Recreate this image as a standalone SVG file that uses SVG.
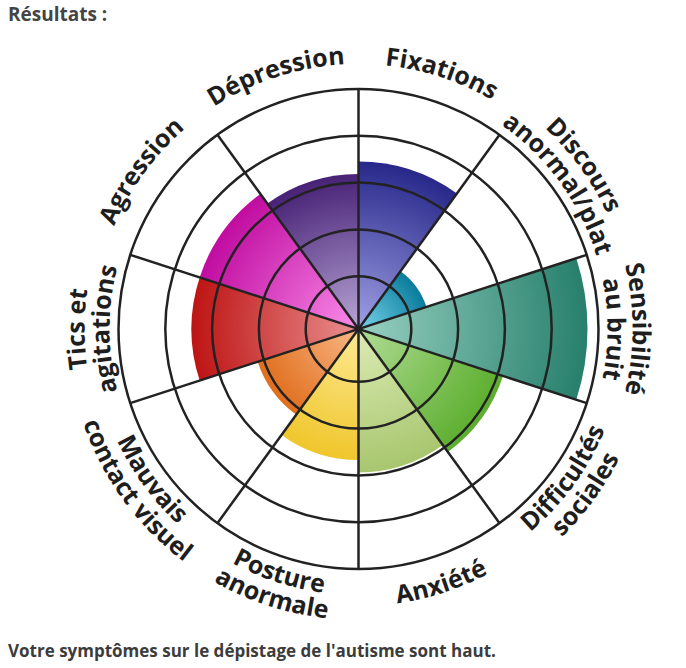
<svg xmlns="http://www.w3.org/2000/svg" width="686" height="668" viewBox="0 0 686 668">
<style>
.lbl{font-family:"Open Sans","Liberation Sans",sans-serif;font-weight:700;font-size:25px;fill:#1e1e1e}
.txt{font-family:"Open Sans","Liberation Sans",sans-serif;font-weight:700;font-size:17px;fill:#3c3c3c}
.ttl{font-family:"Open Sans","Liberation Sans",sans-serif;font-weight:700;font-size:19px;fill:#444}
.grid{fill:none;stroke:#222;stroke-width:2.5}
</style>
<defs>
<radialGradient id="gFix" gradientUnits="userSpaceOnUse" cx="358.5" cy="329" r="167.5"><stop offset="0" stop-color="#a0a0e6"/><stop offset="1" stop-color="#28288a"/></radialGradient>
<radialGradient id="gDis" gradientUnits="userSpaceOnUse" cx="358.5" cy="329" r="71.5"><stop offset="0" stop-color="#78d4ec"/><stop offset="1" stop-color="#0a7c9c"/></radialGradient>
<radialGradient id="gSen" gradientUnits="userSpaceOnUse" cx="358.5" cy="329" r="229"><stop offset="0" stop-color="#98d0c2"/><stop offset="1" stop-color="#27806c"/></radialGradient>
<radialGradient id="gDif" gradientUnits="userSpaceOnUse" cx="358.5" cy="329" r="152"><stop offset="0" stop-color="#b0dc94"/><stop offset="1" stop-color="#5cae2e"/></radialGradient>
<radialGradient id="gAnx" gradientUnits="userSpaceOnUse" cx="358.5" cy="329" r="143.5"><stop offset="0" stop-color="#dcecb6"/><stop offset="1" stop-color="#a8c66e"/></radialGradient>
<radialGradient id="gPos" gradientUnits="userSpaceOnUse" cx="358.5" cy="329" r="131"><stop offset="0" stop-color="#fdea94"/><stop offset="1" stop-color="#f0c62c"/></radialGradient>
<radialGradient id="gMau" gradientUnits="userSpaceOnUse" cx="358.5" cy="329" r="106"><stop offset="0" stop-color="#f9b888"/><stop offset="1" stop-color="#e06e1c"/></radialGradient>
<radialGradient id="gTic" gradientUnits="userSpaceOnUse" cx="358.5" cy="329" r="167"><stop offset="0" stop-color="#ea9090"/><stop offset="1" stop-color="#be1414"/></radialGradient>
<radialGradient id="gAgr" gradientUnits="userSpaceOnUse" cx="358.5" cy="329" r="167"><stop offset="0" stop-color="#fa8cea"/><stop offset="1" stop-color="#c00ca0"/></radialGradient>
<radialGradient id="gDep" gradientUnits="userSpaceOnUse" cx="358.5" cy="329" r="155"><stop offset="0" stop-color="#b8a6d6"/><stop offset="1" stop-color="#482276"/></radialGradient>
<path id="cw265" d="M109.48,238.36 A265,265 0 0 1 607.52,238.36"/>
<path id="cw274" d="M101.02,235.29 A274,274 0 0 1 615.98,235.29"/>
<path id="cw249" d="M124.52,243.84 A249,249 0 0 1 592.48,243.84"/>
<path id="ccw277" d="M98.2,423.74 A277,277 0 0 0 618.8,423.74"/>
<path id="ccw266" d="M108.54,419.98 A266,266 0 0 0 608.46,419.98"/>
<path id="ccw291" d="M85.05,428.53 A291,291 0 0 0 631.95,428.53"/>
</defs>
<rect width="686" height="668" fill="#fff"/>
<text class="ttl" x="8" y="21">Résultats :</text>

<g id="fixations">
<path d="M358.5,329 L358.5,161.5 A167.5,167.5 0 0 1 456.95,193.49 Z" fill="url(#gFix)"/>
<text class="lbl" transform="rotate(18 358.5 329)" text-anchor="middle"><textPath href="#cw265" startOffset="50%">Fixations</textPath></text>
</g>
<g id="discours">
<path d="M358.5,329 L400.53,271.16 A71.5,71.5 0 0 1 426.5,306.91 Z" fill="url(#gDis)"/>
<text class="lbl" transform="rotate(54 358.5 329)" text-anchor="middle"><textPath href="#cw274" startOffset="50%">Discours</textPath></text>
<text class="lbl" transform="rotate(54 358.5 329)" text-anchor="middle"><textPath href="#cw249" startOffset="50%">anormal/plat</textPath></text>
</g>
<g id="sensibilite">
<path d="M358.5,329 L576.29,258.24 A229,229 0 0 1 576.29,399.76 Z" fill="url(#gSen)"/>
<text class="lbl" transform="rotate(90 358.5 329)" text-anchor="middle"><textPath href="#cw274" startOffset="50%">Sensibilité</textPath></text>
<text class="lbl" transform="rotate(90 358.5 329)" text-anchor="middle"><textPath href="#cw249" startOffset="50%">au bruit</textPath></text>
</g>
<g id="difficultes">
<path d="M358.5,329 L503.06,375.97 A152,152 0 0 1 447.84,451.97 Z" fill="url(#gDif)"/>
<text class="lbl" transform="rotate(-54 358.5 329)" text-anchor="middle"><textPath href="#ccw266" startOffset="50%">Difficultés</textPath></text>
<text class="lbl" transform="rotate(-54 358.5 329)" text-anchor="middle"><textPath href="#ccw291" startOffset="50%">sociales</textPath></text>
</g>
<g id="anxiete">
<path d="M358.5,329 L442.85,445.09 A143.5,143.5 0 0 1 358.5,472.5 Z" fill="url(#gAnx)"/>
<text class="lbl" transform="rotate(-18 358.5 329)" text-anchor="middle"><textPath href="#ccw277" startOffset="50%">Anxiété</textPath></text>
</g>
<g id="posture">
<path d="M358.5,329 L358.5,460 A131,131 0 0 1 281.5,434.98 Z" fill="url(#gPos)"/>
<text class="lbl" transform="rotate(18 358.5 329)" text-anchor="middle"><textPath href="#ccw266" startOffset="50%">Posture</textPath></text>
<text class="lbl" transform="rotate(18 358.5 329)" text-anchor="middle"><textPath href="#ccw291" startOffset="50%">anormale</textPath></text>
</g>
<g id="contact">
<path d="M358.5,329 L296.19,414.76 A106,106 0 0 1 257.69,361.76 Z" fill="url(#gMau)"/>
<text class="lbl" transform="rotate(54 358.5 329)" text-anchor="middle"><textPath href="#ccw266" startOffset="50%">Mauvais</textPath></text>
<text class="lbl" transform="rotate(54 358.5 329)" text-anchor="middle"><textPath href="#ccw291" startOffset="50%">contact visuel</textPath></text>
</g>
<g id="tics">
<path d="M358.5,329 L199.67,380.61 A167,167 0 0 1 199.67,277.39 Z" fill="url(#gTic)"/>
<text class="lbl" transform="rotate(-90 358.5 329)" text-anchor="middle"><textPath href="#cw274" startOffset="50%">Tics et</textPath></text>
<text class="lbl" transform="rotate(-90 358.5 329)" text-anchor="middle"><textPath href="#cw249" startOffset="50%">agitations</textPath></text>
</g>
<g id="agression">
<path d="M358.5,329 L199.67,277.39 A167,167 0 0 1 260.34,193.89 Z" fill="url(#gAgr)"/>
<text class="lbl" transform="rotate(-54 358.5 329)" text-anchor="middle"><textPath href="#cw265" startOffset="50%">Agression</textPath></text>
</g>
<g id="depression">
<path d="M358.5,329 L267.39,203.6 A155,155 0 0 1 358.5,174 Z" fill="url(#gDep)"/>
<text class="lbl" transform="rotate(-18 358.5 329)" text-anchor="middle"><textPath href="#cw265" startOffset="50%">Dépression</textPath></text>
</g>

<g id="connectors" class="grid">
<circle cx="358.5" cy="329" r="52.8"/>
<circle cx="358.5" cy="329" r="99.6"/>
<circle cx="358.5" cy="329" r="146.4"/>
<circle cx="358.5" cy="329" r="193.2"/>
<circle cx="358.5" cy="329" r="240"/>
<line x1="358.5" y1="89" x2="358.5" y2="569"/>
<line x1="499.57" y1="134.84" x2="217.43" y2="523.16"/>
<line x1="586.75" y1="254.84" x2="130.25" y2="403.16"/>
<line x1="586.75" y1="403.16" x2="130.25" y2="254.84"/>
<line x1="499.57" y1="523.16" x2="217.43" y2="134.84"/>
<circle cx="358.5" cy="329" r="3" fill="#222" stroke="none"/>
</g>

<text class="txt" x="8" y="657">Votre symptômes sur le dépistage de l'autisme sont haut.</text>
</svg>
